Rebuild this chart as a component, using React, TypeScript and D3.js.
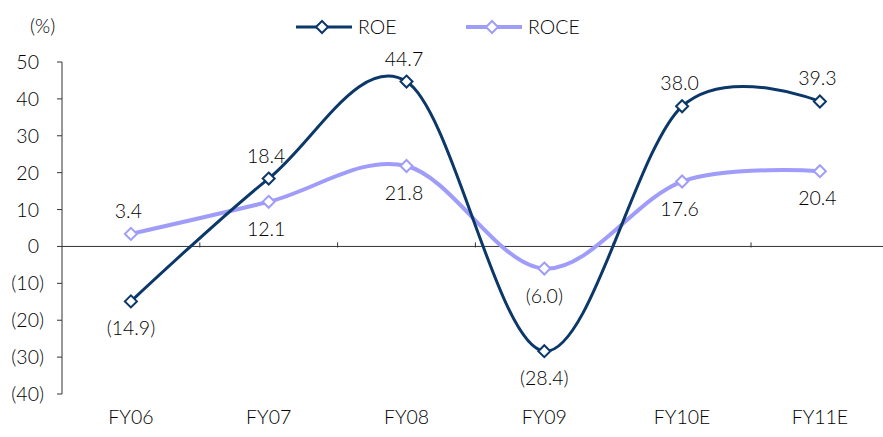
import React from "react";
import * as d3 from "d3";

const categories = ["FY06", "FY07", "FY08", "FY09", "FY10E", "FY11E"];
const roe = [-14.9, 18.4, 44.7, -28.4, 38.0, 39.3];
const roce = [3.4, 12.1, 21.8, -6.0, 17.6, 20.4];
const roeLabelPos = ["below", "above", "above", "below", "above", "above"];
const roceLabelPos = ["above", "below", "below", "below", "below", "below"];
const yTicks = [50, 40, 30, 20, 10, 0, -10, -20, -30, -40];

const W = 883;
const H = 437;
const FONT = "Lato, 'Open Sans', sans-serif";
const FW = 300;
const TXT = "#000";
const ROE_COLOR = "#0B3868";
const ROCE_COLOR = "#9F9CFA";

function NumText({ v, x, y, anchor, decimals }: { v: number; x: number; y: number; anchor: string; decimals: number }) {
  const s = Math.abs(v).toFixed(decimals);
  return (
    <text x={x} y={y} textAnchor={anchor} fontFamily={FONT} fontWeight={FW} fontSize={19.5} fill={TXT}>
      {v < 0 ? `(${s})` : s}
      {v >= 0 ? <tspan fillOpacity={0}>)</tspan> : null}
    </text>
  );
}

export default function App() {
  const x = d3.scaleBand<string>().domain(categories).range([62, 62 + 6 * 137.8]);
  const y = d3.scaleLinear().domain([-40, 50]).range([394, 62]);
  const cx = (c: string) => (x(c) as number) + x.bandwidth() / 2;

  const line = d3
    .line<number>()
    .x((_, i) => cx(categories[i]))
    .y((d) => y(d))
    .curve(d3.curveCardinal.tension(0));

  const diamond = (px: number, py: number, color: string, key: string) => (
    <path
      key={key}
      d={`M${px},${py - 6}L${px + 6},${py}L${px},${py + 6}L${px - 6},${py}Z`}
      fill="#fff"
      stroke={color}
      strokeWidth={2}
    />
  );

  const xMax = 883;

  return (
    <svg width={W} height={H} style={{ position: "absolute", left: 0, top: 0, display: "block" }}>
      <rect width={W} height={H} fill="#fff" />
      {/* y axis */}
      <line x1={62} x2={62} y1={y(50)} y2={y(-40)} stroke="#333" strokeWidth={1} />
      {yTicks.map((t) => (
        <g key={t}>
          <line x1={57} x2={62} y1={y(t)} y2={y(t)} stroke="#333" />
          <NumText v={t} x={44} y={y(t) + 7} anchor="end" decimals={0} />
        </g>
      ))}
      {/* zero line */}
      <line x1={62} x2={xMax} y1={y(0)} y2={y(0)} stroke="#333" />
      {categories.map((c, i) =>
        i > 0 ? (
          <line key={c} x1={x(c) as number} x2={x(c) as number} y1={y(0) - 4} y2={y(0) + 1} stroke="#333" />
        ) : null
      )}
      {categories.map((c) => (
        <text key={c} x={cx(c)} y={424} textAnchor="middle" fontFamily={FONT} fontWeight={FW} fontSize={19.5} fill={TXT}>
          {c}
        </text>
      ))}
      <text x={30} y={33} fontFamily={FONT} fontWeight={FW} fontSize={19.5} fill={TXT}>(%)</text>

      {/* lines */}
      <path d={line(roce) || ""} fill="none" stroke={ROCE_COLOR} strokeWidth={4} strokeLinejoin="round" />
      <path d={line(roe) || ""} fill="none" stroke={ROE_COLOR} strokeWidth={3} strokeLinejoin="round" />
      {roce.map((v, i) => diamond(cx(categories[i]), y(v), ROCE_COLOR, "rc" + i))}
      {roe.map((v, i) => diamond(cx(categories[i]), y(v), ROE_COLOR, "re" + i))}

      {/* data labels */}
      {roe.map((v, i) => (
        <NumText
          key={"lr" + i}
          v={v}
          x={cx(categories[i])}
          y={roeLabelPos[i] === "above" ? y(v) - 16 : y(v) + 34}
          anchor="middle"
          decimals={1}
        />
      ))}
      {roce.map((v, i) => (
        <NumText
          key={"lc" + i}
          v={v}
          x={cx(categories[i])}
          y={roceLabelPos[i] === "above" ? y(v) - 16 : y(v) + 34}
          anchor="middle"
          decimals={1}
        />
      ))}

      {/* legend */}
      <line x1={296} x2={352} y1={27} y2={27} stroke={ROE_COLOR} strokeWidth={3} />
      {diamond(322, 27, ROE_COLOR, "lg1")}
      <text x={358} y={34} fontFamily={FONT} fontWeight={FW} fontSize={19.5} fill={TXT}>ROE</text>
      <line x1={466} x2={522} y1={27} y2={27} stroke={ROCE_COLOR} strokeWidth={4} />
      {diamond(492, 27, ROCE_COLOR, "lg2")}
      <text x={528} y={34} fontFamily={FONT} fontWeight={FW} fontSize={19.5} fill={TXT}>ROCE</text>
    </svg>
  );
}
